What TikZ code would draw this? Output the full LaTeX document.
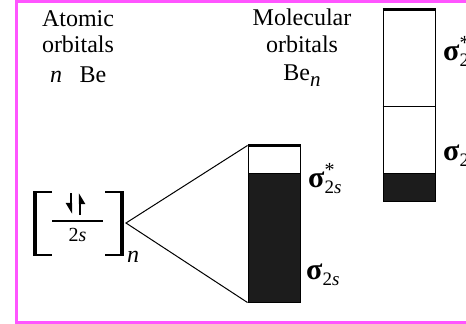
\documentclass[tikz,border=0pt]{standalone}
\usepackage{fontspec}
\setmainfont{Liberation Serif}
\usetikzlibrary{arrows.meta,positioning}
\definecolor{FrameMagenta}{RGB}{255,85,255}
\definecolor{BandFill}{RGB}{28,28,28}

% orbital labels
\newcommand{\sigstar}{{\fontsize{30}{30}\selectfont\textbf{σ}}\rlap{\raisebox{11pt}{\fontsize{20}{20}\selectfont *}}%
  \raisebox{-6pt}{\fontsize{19}{19}\selectfont 2\textit{s}}}
\newcommand{\sigplain}{{\fontsize{30}{30}\selectfont\textbf{σ}}\raisebox{-6pt}{\fontsize{19}{19}\selectfont 2\textit{s}}}

\begin{document}
\begin{tikzpicture}[
    x=1pt, y=-1pt,
    head/.style={font=\fontsize{24}{27}\selectfont, inner sep=0pt, anchor=base},
    orb/.style={font=\fontsize{24}{27}\selectfont, inner sep=0pt, anchor=base west},
    band/.style={draw, line width=1pt, minimum width=52pt, inner sep=0pt},
    filled/.style={band, fill=BandFill},
    bracket/.style={line width=2pt},
    spin/.style={line width=2.8pt, -{Triangle[right, length=9pt, width=10pt]}}
  ]
    \useasboundingbox (0,0) rectangle (466,324);
    \draw[FrameMagenta, line width=3pt] (16.5,1) rectangle (520,322.5);

    % titles
    \node[head] (atomic) at (78,26) {Atomic};
    \node[head] (atomic-2) at (78,52) {orbitals};
    \node[head] (atomic-n) at (56,82) {\textit{n}};
    \node[head] (atomic-be) at (93,82) {Be};

    \node[head] (molecular) at (302,25) {Molecular};
    \node[head] (molecular-2) at (302,52) {orbitals};
    \node[head] (molecular-be) at (302,80)
      {Be\raisebox{-6pt}{\fontsize{21}{21}\selectfont\textit{n}}};

    % one Be atom, 2s level
    \draw[bracket] (52,192) -- (35,192) -- (35,255) -- (52,255);
    \draw[line width=3.5pt] (35,191) -- (35,256);
    \draw[bracket] (105,192) -- (122,192) -- (122,255) -- (105,255);
    \draw[line width=3.5pt] (122,191) -- (122,256);
    \node[head] (bracket-n) at (133,262) {\textit{n}};

    \draw[line width=1.5pt] (52,221) -- (103,221);
    \node[head, font=\fontsize{20}{20}\selectfont] (level-2s) at (77.5,241) {2\textit{s}};
    \draw[spin] (71,193) -- (71,214);
    \draw[spin] (80,215) -- (80,193);

    % band of Be_n
    \coordinate (apex) at (126,223);
    \node[band, minimum height=156pt] (mo-band) at (274,224) {};
    \node[filled, minimum height=129pt, anchor=south] (mo-filled) at (mo-band.south) {};
    \draw[line width=3pt] (mo-band.north west) -- (mo-band.north east);
    \draw[line width=1pt] (mo-band.north west) -- (apex) -- (mo-band.south west);

    \node[orb] (mo-anti) at (308,187) {\sigstar};
    \node[orb] (mo-bond) at (306,279) {\sigplain};

    % band cut at the right
    \node[band, minimum height=191pt] (ref-band) at (409,105.5) {};
    \node[filled, minimum height=28pt, anchor=south] (ref-filled) at (ref-band.south) {};
    \draw[line width=3pt] (ref-band.north west) -- (ref-band.north east);
    \draw[line width=1pt] (ref-band.west |- 0,106) -- (ref-band.east |- 0,106);

    \node[orb] (ref-anti) at (443,60) {\sigstar};
    \node[orb] (ref-bond) at (443,160) {\sigplain};
  \end{tikzpicture}
\end{document}
